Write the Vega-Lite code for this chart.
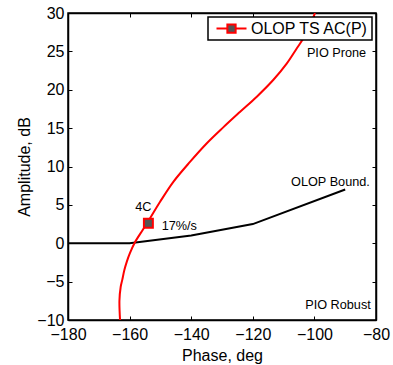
{
  "$schema": "https://vega.github.io/schema/vega-lite/v6.json",
  "width": 308,
  "height": 307,
  "autosize": {"type": "none"},
  "padding": {"left": 68, "top": 13, "right": 17, "bottom": 45},
  "background": "white",
  "config": {
    "font": "Liberation Sans",
    "view": {"stroke": "black", "strokeWidth": 1.5},
    "axis": {
      "grid": false,
      "domainColor": "black",
      "domainWidth": 1.5,
      "tickColor": "black",
      "tickWidth": 1,
      "tickSize": -4,
      "labelFont": "Liberation Sans",
      "labelFontSize": 16,
      "labelColor": "black",
      "titleFont": "Liberation Sans",
      "titleFontSize": 16,
      "titleFontWeight": "normal",
      "titleColor": "black"
    },
    "legend": {
      "labelFont": "Liberation Sans",
      "labelFontSize": 16,
      "labelColor": "black"
    }
  },
  "datasets": {
    "bound": [
      {"phase": -180, "amp": 0},
      {"phase": -160, "amp": 0},
      {"phase": -140, "amp": 1},
      {"phase": -120, "amp": 2.5},
      {"phase": -90, "amp": 7}
    ],
    "curve": [
      {"i": 1, "phase": -163.1, "amp": -10, "series": "OLOP TS AC(P)"},
      {"i": 2, "phase": -163.3, "amp": -7.5, "series": "OLOP TS AC(P)"},
      {"i": 3, "phase": -162.9, "amp": -5.7, "series": "OLOP TS AC(P)"},
      {"i": 4, "phase": -162.4, "amp": -4.8, "series": "OLOP TS AC(P)"},
      {"i": 5, "phase": -161.7, "amp": -3.5, "series": "OLOP TS AC(P)"},
      {"i": 6, "phase": -160.9, "amp": -2.4, "series": "OLOP TS AC(P)"},
      {"i": 7, "phase": -159.9, "amp": -1.3, "series": "OLOP TS AC(P)"},
      {"i": 8, "phase": -158.3, "amp": 0.1, "series": "OLOP TS AC(P)"},
      {"i": 9, "phase": -155.8, "amp": 1.7, "series": "OLOP TS AC(P)"},
      {"i": 10, "phase": -153.9, "amp": 2.9, "series": "OLOP TS AC(P)"},
      {"i": 11, "phase": -150.1, "amp": 5.4, "series": "OLOP TS AC(P)"},
      {"i": 12, "phase": -145.8, "amp": 8.0, "series": "OLOP TS AC(P)"},
      {"i": 13, "phase": -140.4, "amp": 10.6, "series": "OLOP TS AC(P)"},
      {"i": 14, "phase": -135.0, "amp": 13.0, "series": "OLOP TS AC(P)"},
      {"i": 15, "phase": -129.6, "amp": 15.1, "series": "OLOP TS AC(P)"},
      {"i": 16, "phase": -124.2, "amp": 17.1, "series": "OLOP TS AC(P)"},
      {"i": 17, "phase": -118.7, "amp": 19.1, "series": "OLOP TS AC(P)"},
      {"i": 18, "phase": -113.3, "amp": 21.3, "series": "OLOP TS AC(P)"},
      {"i": 19, "phase": -109.0, "amp": 23.4, "series": "OLOP TS AC(P)"},
      {"i": 20, "phase": -105.7, "amp": 25.4, "series": "OLOP TS AC(P)"},
      {"i": 21, "phase": -103.0, "amp": 27.1, "series": "OLOP TS AC(P)"},
      {"i": 22, "phase": -99.8, "amp": 30, "series": "OLOP TS AC(P)"}
    ],
    "marker": [
      {"phase": -153.9, "amp": 2.6}
    ],
    "labels": [
      {"phase": -83.2, "amp": 24.75, "text": "PIO Prone", "anchor": "right"},
      {"phase": -82.0, "amp": 7.94, "text": "OLOP Bound.", "anchor": "right"},
      {"phase": -81.7, "amp": -8.05, "text": "PIO Robust", "anchor": "right"},
      {"phase": -155.55, "amp": 4.76, "text": "4C", "anchor": "center"},
      {"phase": -149.6, "amp": 2.29, "text": "17%/s", "anchor": "left"}
    ]
  },
  "layer": [
    {
      "data": {"name": "bound"},
      "mark": {"type": "line", "color": "black", "strokeWidth": 2, "clip": true},
      "encoding": {
        "x": {"field": "phase", "type": "quantitative",
              "scale": {"domain": [-180, -80], "nice": false, "zero": false},
              "axis": {"title": "Phase, deg", "values": [-180, -160, -140, -120, -100, -80], "labelPadding": 10, "titlePadding": 5, "labelFlush": false}},
        "y": {"field": "amp", "type": "quantitative",
              "scale": {"domain": [-10, 30], "nice": false, "zero": false},
              "axis": {"title": "Amplitude, dB", "values": [-10, -5, 0, 5, 10, 15, 20, 25, 30], "labelPadding": 8, "titlePadding": 4, "labelFlush": false}}
      }
    },
    {
      "data": {"name": "bound"},
      "mark": {"type": "line", "opacity": 0},
      "encoding": {
        "x": {"field": "phase", "type": "quantitative",
              "axis": {"orient": "top", "labels": false, "title": null, "values": [-180, -160, -140, -120, -100, -80]}},
        "y": {"field": "amp", "type": "quantitative",
              "axis": {"orient": "right", "labels": false, "title": null, "values": [-10, -5, 0, 5, 10, 15, 20, 25, 30]}}
      }
    },
    {
      "data": {"name": "curve"},
      "mark": {"type": "line", "strokeWidth": 2, "clip": true, "interpolate": "catmull-rom"},
      "encoding": {
        "x": {"field": "phase", "type": "quantitative", "axis": null},
        "y": {"field": "amp", "type": "quantitative", "axis": null},
        "order": {"field": "i", "type": "quantitative"},
        "color": {"field": "series", "type": "nominal",
                  "scale": {"range": ["#ff0000"]},
                  "legend": {
                    "title": null,
                    "orient": "top-right",
                    "offset": 4,
                    "padding": 3,
                    "fillColor": "white",
                    "strokeColor": "black",
                    "symbolType": "M-2,0H-0.55M0.55,0H2M-0.55,-0.55H0.55V0.55H-0.55Z",
                    "symbolSize": 225,
                    "symbolOffset": 12,
                    "symbolStrokeWidth": 2,
                    "labelOffset": 11,
                    "encode": {
                      "symbols": {"update": {"fill": {"value": "#555555"}, "stroke": {"value": "#ff0000"}, "strokeWidth": {"value": 2}}},
                      "legend": {"update": {"strokeWidth": {"value": 1.5}}}
                    }
                  }}
      }
    },
    {
      "data": {"name": "marker"},
      "mark": {"type": "point", "shape": "square", "filled": true, "size": 80, "fill": "#555555", "stroke": "#ff0000", "strokeWidth": 2, "opacity": 1},
      "encoding": {
        "x": {"field": "phase", "type": "quantitative", "axis": null},
        "y": {"field": "amp", "type": "quantitative", "axis": null}
      }
    },
    {
      "data": {"name": "labels"},
      "transform": [{"filter": "datum.anchor == 'right'"}],
      "mark": {"type": "text", "align": "right", "baseline": "middle", "fontSize": 12.7, "font": "Liberation Sans", "color": "black"},
      "encoding": {
        "x": {"field": "phase", "type": "quantitative", "axis": null},
        "y": {"field": "amp", "type": "quantitative", "axis": null},
        "text": {"field": "text"}
      }
    },
    {
      "data": {"name": "labels"},
      "transform": [{"filter": "datum.anchor == 'center'"}],
      "mark": {"type": "text", "align": "center", "baseline": "middle", "fontSize": 12.7, "font": "Liberation Sans", "color": "black"},
      "encoding": {
        "x": {"field": "phase", "type": "quantitative", "axis": null},
        "y": {"field": "amp", "type": "quantitative", "axis": null},
        "text": {"field": "text"}
      }
    },
    {
      "data": {"name": "labels"},
      "transform": [{"filter": "datum.anchor == 'left'"}],
      "mark": {"type": "text", "align": "left", "baseline": "middle", "fontSize": 12.7, "font": "Liberation Sans", "color": "black"},
      "encoding": {
        "x": {"field": "phase", "type": "quantitative", "axis": null},
        "y": {"field": "amp", "type": "quantitative", "axis": null},
        "text": {"field": "text"}
      }
    }
  ],
  "resolve": {"axis": {"x": "independent", "y": "independent"}}
}
